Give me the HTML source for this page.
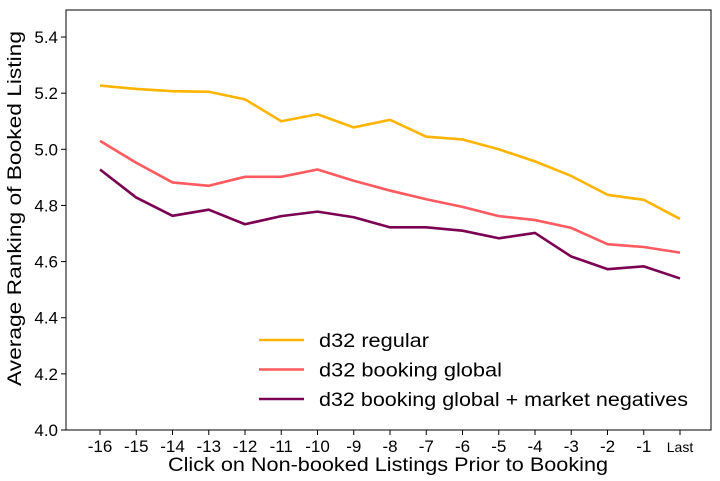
<!DOCTYPE html>
<html><head><meta charset="utf-8"><style>
body{margin:0;background:#fff}
svg{display:block;font-family:"Liberation Sans",sans-serif}
</style></head><body>
<svg id="c" width="720" height="481"></svg>
<script>
const categories=["-16","-15","-14","-13","-12","-11","-10","-9","-8","-7","-6","-5","-4","-3","-2","-1","Last"];
const regular=[5.227,5.215,5.207,5.205,5.178,5.100,5.125,5.078,5.105,5.045,5.035,5.000,4.957,4.905,4.838,4.820,4.752];
const bookingGlobal=[5.030,4.952,4.882,4.870,4.902,4.902,4.928,4.888,4.853,4.822,4.795,4.762,4.748,4.720,4.662,4.652,4.632];
const marketNeg=[4.928,4.828,4.763,4.785,4.733,4.762,4.778,4.758,4.722,4.722,4.710,4.683,4.702,4.618,4.573,4.583,4.540];
const yTicks=[4.0,4.2,4.4,4.6,4.8,5.0,5.2,5.4];
const seriesNames=["d32 regular","d32 booking global","d32 booking global + market negatives"];
const legendLens=[110,183,369];
const NS="http://www.w3.org/2000/svg";
const svg=document.getElementById('c');
const L=66,R=711,T=10,B=430,yMin=4.0,yMax=5.4963;
const x=i=>100+i*(680-100)/(categories.length-1);
const y=v=>B-(v-yMin)/(yMax-yMin)*(B-T);
function el(t,a,p){const e=document.createElementNS(NS,t);for(const k in a)e.setAttribute(k,a[k]);(p||svg).appendChild(e);return e;}
const frame=el('rect',{x:L,y:T,width:R-L,height:B-T,fill:'none',stroke:'#000','stroke-width':1});


yTicks.forEach(v=>{
  const t=el('line',{x1:L-5,x2:L,y1:y(v),y2:y(v),stroke:'#000'});
  
  
  const tx=el('text',{x:L-8,y:y(v)+6,'text-anchor':'end','font-size':17,fill:'#000'});
  tx.textContent=v.toFixed(1);
  
  
});
categories.forEach((c,i)=>{
  const t=el('line',{x1:x(i),x2:x(i),y1:B,y2:B+5,stroke:'#000'});
  
  
  const tx=el('text',{x:x(i),y:B+22,'text-anchor':'middle','font-size':c==='Last'?14:17,fill:'#000'});
  tx.textContent=c;
  
  
});
const xt=el('text',{x:168,y:471,'font-size':19,textLength:440,lengthAdjust:'spacingAndGlyphs'});
xt.textContent="Click on Non-booked Listings Prior to Booking";


const yt=el('text',{x:0,y:0,'font-size':19,textLength:355,lengthAdjust:'spacingAndGlyphs',transform:`translate(21,386) rotate(-90)`});
yt.textContent="Average Ranking of Booked Listing";


const colors=["#FFB400","#FF5A5F","#7B0051"];
[regular,bookingGlobal,marketNeg].forEach((s,k)=>{
  const p=el('polyline',{points:s.map((v,i)=>x(i)+','+y(v)).join(' '),fill:'none',stroke:colors[k],'stroke-width':2.6,'stroke-linejoin':'round'});
  
  
  const ly=340+k*29.5;
  const ll=el('line',{x1:259,x2:304,y1:ly,y2:ly,stroke:colors[k],'stroke-width':2.6});
  
  
  const lt=el('text',{x:319,y:ly+7,'font-size':19,textLength:legendLens[k],lengthAdjust:'spacingAndGlyphs'});
  lt.textContent=seriesNames[k];
  
  
});
</script>
</body></html>
